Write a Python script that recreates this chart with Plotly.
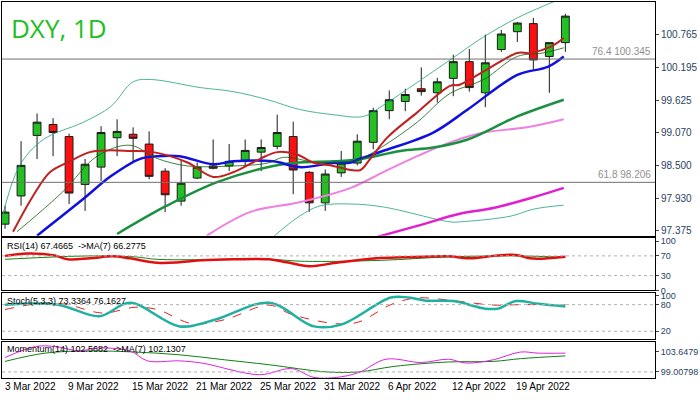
import plotly.graph_objects as go
from plotly.subplots import make_subplots

opens  = [97.48,97.97,99.02,99.21,99.00,98.17,98.47,98.98,99.04,98.87,98.40,97.88,98.28,98.49,98.49,98.59,98.73,98.83,99.00,98.38,97.85,98.37,98.54,98.90,99.45,99.61,99.83,99.76,100.01,100.30,99.76,100.51,100.82,100.96,100.39,100.63]
highs  = [97.80,98.92,99.40,99.32,99.05,98.61,99.18,99.30,99.16,99.09,98.45,98.61,98.55,98.95,98.87,98.95,98.95,99.38,99.26,98.40,98.43,98.75,99.04,99.50,99.80,99.83,100.20,100.02,100.42,100.52,100.77,100.85,100.99,101.06,100.63,101.13]
lows   = [97.40,97.80,98.61,98.66,97.83,97.71,98.23,98.66,98.56,98.26,97.69,97.80,98.26,98.43,98.40,98.47,98.40,98.78,98.00,97.69,97.71,98.30,98.50,98.78,99.30,99.44,99.71,99.59,99.70,99.78,99.51,100.47,100.64,100.16,99.76,100.47]
closes = [97.69,98.50,99.25,99.07,98.02,98.52,99.07,99.09,98.97,98.31,97.99,98.19,98.47,98.45,98.57,98.76,98.81,99.07,98.42,97.85,98.35,98.54,98.92,99.45,99.64,99.73,99.78,99.95,100.30,99.85,100.28,100.78,100.97,100.33,100.63,101.09]

ma_red_x = [0.5,1.75,2.8,3.9,5.3,6.4,7.8,9.25,11.4,13,14.25,15.9,17,18.25,19.25,20.5,21.6,22.2,22.8,23.9,25.75,27.8,28.4,29.9,32,32.8,34.1,34.9]
ma_red_y = [97.35,97.97,98.38,98.55,98.73,98.76,98.75,98.73,98.55,98.30,98.38,98.61,98.73,98.69,98.55,98.49,98.42,98.42,98.61,98.99,99.42,99.88,99.90,100.13,100.45,100.45,100.56,100.71]
ma_thin_x = [0.75,3.6,5.75,7.8,9.5,11.4,14.25,16.4,17.4,19.5,21.6,22.2,23.6,25.75,27.8,29.9,32,33.6,34.9]
ma_thin_y = [97.35,98.04,98.66,98.85,98.62,98.49,98.49,98.54,98.64,98.55,98.57,98.61,98.83,99.25,99.75,99.99,100.39,100.45,100.54]
ma_blue_x = [2,4.9,6.6,8.4,9.5,10.9,13,14.25,16.75,18.4,20.5,21.6,22.2,23.6,26.75,28.9,32,33.9,34.9]
ma_blue_y = [97.28,97.92,98.31,98.61,98.66,98.66,98.52,98.57,98.57,98.47,98.54,98.55,98.62,98.75,99.07,99.47,100.07,100.21,100.39]
ma_green_x = [7,10.1,13.25,16.75,18.4,20.5,22.2,24.7,26.75,28.9,32,34.9]
ma_green_y = [97.31,97.80,98.21,98.49,98.55,98.57,98.61,98.75,98.81,98.95,99.35,99.64]
ma_pink_x = [12.6,15.3,18.4,21.6,23.6,25.75,27.8,29.9,32.6,34.9]
ma_pink_y = [97.28,97.69,97.86,98.11,98.38,98.66,98.90,99.07,99.16,99.30]
ma_mag_x = [23.25,25.75,28.4,30.5,32.8,34.9]
ma_mag_y = [97.26,97.45,97.66,97.76,97.93,98.11]
bb_up_x = [-0.2,0.9,2.4,4.9,6.6,8,9.1,12.2,14.25,16.4,18.4,20.5,22.4,23.6,25.75,27.8,29.9,32,34.1,35.2]
bb_up_y = [97.57,98.49,98.95,99.25,99.52,99.95,99.99,99.85,99.78,99.64,99.47,99.38,99.35,99.54,99.94,100.33,100.73,101.06,101.32,101.45]
bb_lo_x = [16.75,18.4,19.7,21.6,23.6,27.8,28.4,31.6,33,34.9]
bb_lo_y = [97.26,97.62,97.80,97.83,97.78,97.52,97.52,97.62,97.74,97.81]

rsi_x = [0,1.4,3.1,3.9,5.3,6.7,7.8,9.5,10.9,12.3,14.3,16.5,17.6,19.0,20.7,23.2,24.9,27.7,29.1,30.5,31.9,32.8,33.9,35.0]
rsi_y = [70,75,71,63,65,69,65,56,57,61,63,63,57,49,56,65,67,69,65,70,72,65,65,68]
rsima_x = [0,2.5,5.3,8.1,9.5,16.5,18.7,23.5,27.7,31.9,35.0]
rsima_y = [63,67,70,68,63,63,59,61,68,70,67]

st_x = [0,3.3,5.9,7.8,10.9,13.1,16.5,19.3,21.0,24.1,25.2,26.3,28.0,30.0,30.8,31.9,33.3,35.0]
st_y = [80,80,54,84,31,46,84,31,35,96,96,89,88,71,71,88,82,76]
sts_x = [0,2.5,3.9,6.1,8.1,9.5,11.7,13.7,16.5,17.9,20.7,22.1,24.1,25.7,28.0,30.5,32.2,35.0]
sts_y = [69,84,80,61,74,69,37,46,79,58,37,41,80,95,89,79,80,80]

mom_x = [0,1.9,3.1,4.7,5.6,7.8,8.9,10.9,12.3,15.9,17.9,19.3,20.7,22.1,23.8,26.0,27.7,28.8,30.5,32.2,33.3,35.0]
mom_y = [102.6,104.6,104.6,103.8,104.3,103.8,102.0,102.0,101.6,99.5,100.6,99.0,99.0,99.9,102.3,101.7,102.3,101.6,102.2,103.6,103.4,103.4]
momma_x = [0,2.5,5.3,8.1,10.9,13.7,16.5,20.1,22.1,24.3,27.7,30.5,32.2,35.0]
momma_y = [101.9,103.4,103.8,103.6,103.1,102.2,101.3,100.0,100.0,101.0,101.8,101.9,102.4,102.9]

date_ticks = [0,4,8,12,16,20,24,28,32]
date_labels = ["3 Mar 2022","9 Mar 2022","15 Mar 2022","21 Mar 2022","25 Mar 2022","31 Mar 2022","6 Apr 2022","12 Apr 2022","19 Apr 2022"]
price_ticks = [100.765,100.195,99.625,99.070,98.500,97.930,97.375]
fib_levels = [100.345, 98.206]
fib_labels = ["76.4 100.345", "61.8 98.206"]

FS = "Liberation Sans"
XR = [-0.19, 40.6]
fig = make_subplots(rows=4, cols=1, shared_xaxes=True, vertical_spacing=0.004)
fig.add_trace(go.Candlestick(x=list(range(len(opens))), open=opens, high=highs, low=lows, close=closes,
    increasing=dict(fillcolor="#22c022", line=dict(color="#1a1a1a", width=1)),
    decreasing=dict(fillcolor="#ff1010", line=dict(color="#1a1a1a", width=1)),
    whiskerwidth=0), row=1, col=1)

def line(x, y, c, w, r, dash=None):
    fig.add_trace(go.Scatter(x=x, y=y, mode="lines", line=dict(color=c, width=w, shape="spline", dash=dash)), row=r, col=1)

line(bb_up_x, bb_up_y, "#20a080", 0.8, 1)
line(bb_lo_x, bb_lo_y, "#20a080", 0.8, 1)
line(ma_pink_x, ma_pink_y, "#f080e0", 2, 1)
line(ma_mag_x, ma_mag_y, "#e020d0", 2.5, 1)
line(ma_green_x, ma_green_y, "#1a9040", 2.5, 1)
line(ma_blue_x, ma_blue_y, "#1010e0", 2.5, 1)
line(ma_thin_x, ma_thin_y, "#106010", 0.8, 1)
line(ma_red_x, ma_red_y, "#c02020", 2, 1)
line(rsima_x, rsima_y, "#108010", 1, 2)
line(rsi_x, rsi_y, "#e01010", 2.5, 2)
line(sts_x, sts_y, "#e02020", 1, 3, "dash")
line(st_x, st_y, "#20b0a0", 2.5, 3)
line(momma_x, momma_y, "#108010", 1, 4)
line(mom_x, mom_y, "#e020e0", 1, 4)

for lv in fib_levels:
    fig.add_shape(type="line", xref="x domain", x0=0, x1=1, yref="y", y0=lv, y1=lv, line=dict(color="#707070", width=1))
for lv, lb in zip(fib_levels, fib_labels):
    fig.add_annotation(xref="x domain", x=0.997, yref="y", y=lv, text=lb, showarrow=False, xanchor="right", yanchor="bottom",
                       font=dict(family=FS, size=10, color="#909090"))
for r, lv in [(2,70),(2,30),(3,80),(3,20),(4,100)]:
    fig.add_shape(type="line", xref="x domain", x0=0, x1=1, yref=f"y{r}", y0=lv, y1=lv,
                  line=dict(color="#b0b0b0", width=1, dash="dot"))

fig.add_annotation(xref="paper", yref="paper", x=0.01, y=0.985, text="DXY, 1D", showarrow=False, xanchor="left", yanchor="top",
                   font=dict(family="Open Sans", size=26, color="#20c020"))
for r, t in [(2, "RSI(14) 67.4665  ->MA(7) 66.2775"), (3, "Stoch(5,3,3) 73.3364 76.1627"), (4, "Momentum(14) 102.5682  ->MA(7) 102.1307")]:
    fig.add_annotation(xref="x domain", yref=f"y{r} domain", x=0.005, y=0.98, text=t, showarrow=False, xanchor="left", yanchor="top",
                       font=dict(family=FS, size=9, color="#000"))
for tv, tl in zip(date_ticks, date_labels):
    fig.add_annotation(xref="x", yref="paper", x=max(tv - 0.2, XR[0] + 0.05), y=0.0, yshift=-1, text=tl, showarrow=False,
                       xanchor="left", yanchor="top", font=dict(family=FS, size=10, color="#000"))

ax = dict(showgrid=False, zeroline=False, showline=True, linecolor="#000", linewidth=1, mirror=True, automargin=False)
for r in range(1, 5):
    fig.update_xaxes(ax, range=XR, showticklabels=False, rangeslider_visible=False, row=r, col=1)
fig.update_yaxes(ax, side="right", domain=[0.378, 1], range=[97.277, 101.335], tickvals=price_ticks, ticktext=[f"{v:.3f}" for v in price_ticks],
                 ticks="outside", ticklen=3, tickfont=dict(family=FS, size=10), row=1, col=1)
fig.update_yaxes(ax, side="right", domain=[0.233, 0.372], range=[0, 106], tickvals=[100,70,30,0], ticks="outside", ticklen=3, tickfont=dict(family=FS, size=9), row=2, col=1)
fig.update_yaxes(ax, side="right", domain=[0.103, 0.227], range=[2, 107], tickvals=[100,80,20,0], ticks="outside", ticklen=3, tickfont=dict(family=FS, size=9), row=3, col=1)
fig.update_yaxes(ax, side="right", domain=[0, 0.097], range=[98.9, 105.5], tickvals=[103.6479, 100], ticktext=["103.6479","99.00798"], ticks="outside", ticklen=3,
                 tickfont=dict(family=FS, size=9), row=4, col=1)
fig.update_layout(width=700, height=400, margin=dict(l=2, r=45, t=2, b=22), showlegend=False,
                  plot_bgcolor="white", paper_bgcolor="white")
fig.write_html("out.html", config={"displayModeBar": False},
               post_script="document.body.style.margin='0';document.body.style.overflow='hidden';")
